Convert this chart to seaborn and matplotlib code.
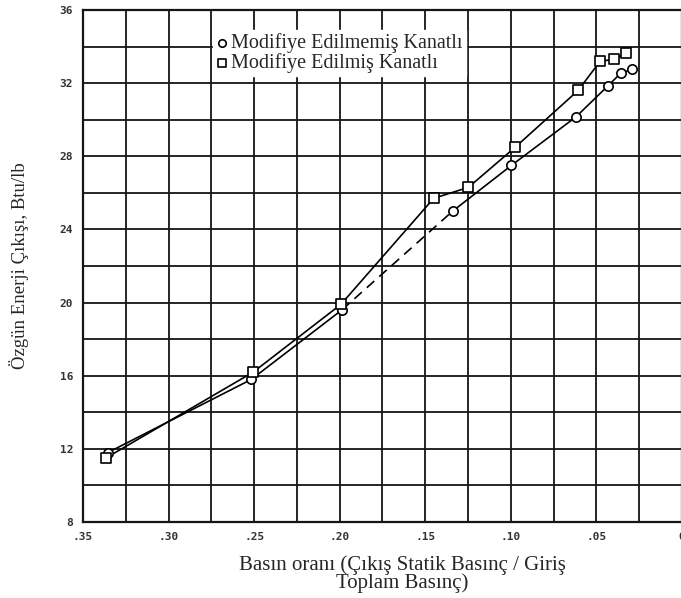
import matplotlib
matplotlib.use("Agg")
import matplotlib.pyplot as plt
import seaborn as sns
import pandas as pd

# values
ratio_unmod = [0.3354, 0.2516, 0.1987, 0.134, 0.0997, 0.062, 0.0433, 0.0357, 0.0293]
energy_unmod = [11.8, 15.8, 19.6, 25.0, 27.5, 30.15, 31.85, 32.55, 32.75]

ratio_mod = [0.3366, 0.2505, 0.1993, 0.1451, 0.1248, 0.0974, 0.0607, 0.0478, 0.0396, 0.0326]
energy_mod = [11.5, 16.2, 19.9, 25.7, 26.3, 28.5, 31.6, 33.2, 33.3, 33.65]

x_ticks = [0.35, 0.30, 0.25, 0.20, 0.15, 0.10, 0.05, 0.0]
x_labels = [".35", ".30", ".25", ".20", ".15", ".10", ".05", "0"]
y_ticks = [8, 12, 16, 20, 24, 28, 32, 36]

label_unmod = "Modifiye Edilmemiş Kanatlı"
label_mod = "Modifiye Edilmiş Kanatlı"

df_unmod = pd.DataFrame({"ratio": ratio_unmod, "energy": energy_unmod})
df_mod = pd.DataFrame({"ratio": ratio_mod, "energy": energy_mod})

sns.set_style("white")
fig = plt.figure(figsize=(6.81, 5.98), dpi=100)
ax = fig.add_axes([83 / 681, 1 - 522 / 598, (682 - 83) / 681, 512 / 598])

# grid every .025 and 2 units, heavy like the graph paper
ax.set_xticks(x_ticks)
ax.set_xticklabels(x_labels)
ax.set_yticks(y_ticks)
ax.set_xticks([i * 0.025 for i in range(15)], minor=True)
ax.set_yticks(list(range(8, 37, 2)), minor=True)
ax.grid(True, which="both", color="#151515", linewidth=1.3, zorder=0)
ax.set_axisbelow(True)
ax.set_xlim(0.35, 0.0)
ax.set_ylim(8, 36)

# modified blade line (solid)
sns.lineplot(data=df_mod, x="ratio", y="energy", ax=ax, color="black",
             linewidth=1.2, sort=False, estimator=None, zorder=3)

# unmodified blade line: solid, dashed through the middle, solid again
sns.lineplot(data=df_unmod.iloc[0:3], x="ratio", y="energy", ax=ax, color="black",
             linewidth=1.2, sort=False, estimator=None, zorder=3)
sns.lineplot(data=df_unmod.iloc[2:4], x="ratio", y="energy", ax=ax, color="black",
             linewidth=1.2, sort=False, estimator=None, linestyle=(0, (6, 4)), zorder=3)
sns.lineplot(data=df_unmod.iloc[3:], x="ratio", y="energy", ax=ax, color="black",
             linewidth=1.2, sort=False, estimator=None, zorder=3)

sns.scatterplot(data=df_unmod, x="ratio", y="energy", ax=ax, marker="o", s=45,
                facecolor="white", edgecolor="black", linewidth=1.2,
                label=label_unmod, zorder=4)
sns.scatterplot(data=df_mod, x="ratio", y="energy", ax=ax, marker="s", s=45,
                facecolor="white", edgecolor="black", linewidth=1.2,
                label=label_mod, zorder=4)

for s in ax.spines.values():
    s.set_color("#151515")
    s.set_linewidth(1.6)

ax.tick_params(axis="both", length=0, pad=7, labelcolor="#333333")
for t in ax.get_xticklabels() + ax.get_yticklabels():
    t.set_family("DejaVu Sans Mono")
    t.set_fontweight("bold")
    t.set_fontsize(8)

ax.set_xlabel("Basın oranı (Çıkış Statik Basınç / Giriş\nToplam Basınç)",
              family="Liberation Serif", fontsize=15, linespacing=0.9)
ax.xaxis.set_label_coords((402 - 83) / 599, -0.065)
ax.xaxis.label.set_va("top")
ax.set_ylabel("Özgün Enerji Çıkışı, Btu/lb", family="Liberation Serif",
              fontsize=13.5, labelpad=22)

leg = ax.legend(loc="upper left", bbox_to_anchor=(203 / 681, 1 - 20 / 598),
                bbox_transform=fig.transFigure, frameon=True, framealpha=1,
                facecolor="white", edgecolor="white", fancybox=False,
                prop={"family": "Liberation Serif", "size": 14.5},
                handlelength=0.6, handletextpad=0.15, labelspacing=0.0,
                borderpad=0.15, markerscale=0.8)

fig.savefig("out.png", dpi=100)
